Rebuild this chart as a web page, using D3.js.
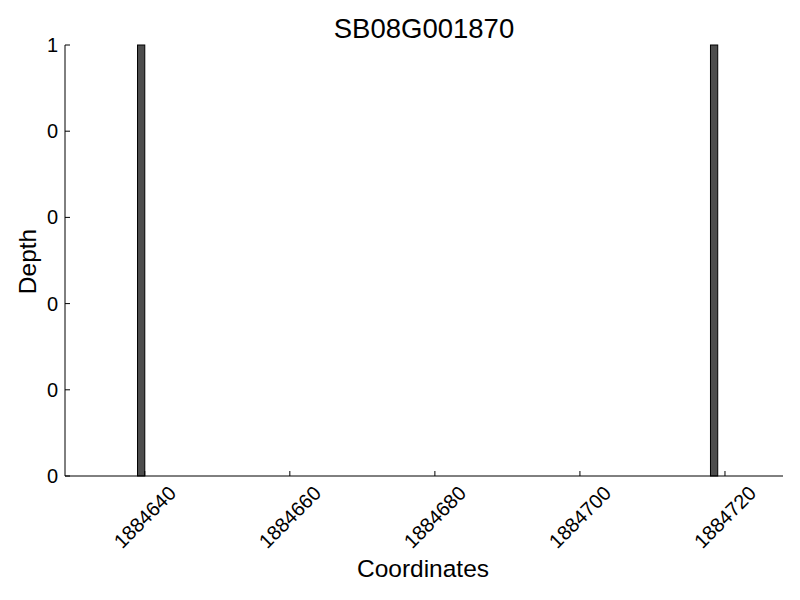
<!DOCTYPE html>
<html>
<head>
<meta charset="utf-8">
<script src="https://cdn.jsdelivr.net/npm/d3@7"></script>
<style>
  body { margin: 0; background: #fff; }
  text { font-family: "Liberation Sans", Arial, sans-serif; fill: #000; }
</style>
</head>
<body>
<div class="canvas"></div>
<script>
const width = 800;
const height = 600;
let [mt, mr, mb, ml] = [45, 17, 124, 65]
let graphWidth = width - ml - mr
let graphHeight = height - mt - mb

// data
const positions = [1884639, 1884718]
const depths = [1, 1]
const xTicks = [1884640, 1884660, 1884680, 1884700, 1884720]
const yTicks = [0, 0.2, 0.4, 0.6, 0.8, 1]
const yTickLabels = ["0", "0", "0", "0", "0", "1"]
const xDomain = [1884629, 1884728]

const data = positions.map((p, i) => ({pos: p, depth: depths[i]}))

const svg = d3.select(".canvas")
                .append("svg")
                .attr("width", width)
                .attr("height", height)

const graph = svg.append("g")
                    .attr("transform", `translate(${ml}, ${mt})`)

const x = d3.scaleLinear()
            .domain(xDomain)
            .range([0, graphWidth])

const y = d3.scaleLinear()
            .domain([0, 1])
            .range([graphHeight, 0])

// bars (one unit wide, edge aligned)
graph.selectAll("rect")
    .data(data)
    .enter()
    .append("rect")
    .attr("x", d => x(d.pos))
    .attr("y", d => y(d.depth))
    .attr("width", d => x(d.pos + 1) - x(d.pos))
    .attr("height", d => graphHeight - y(d.depth))
    .attr("fill", "#4d4d4d")
    .attr("stroke", "#000")
    .attr("stroke-width", 1)

// spines
graph.append("line")
    .attr("x1", 0).attr("x2", 0)
    .attr("y1", 0).attr("y2", graphHeight)
    .attr("stroke", "#000")
graph.append("line")
    .attr("x1", 0).attr("x2", graphWidth)
    .attr("y1", graphHeight).attr("y2", graphHeight)
    .attr("stroke", "#000")

// y ticks (inward)
graph.selectAll(".ytick")
    .data(yTicks)
    .enter()
    .append("line")
    .attr("x1", 0).attr("x2", 5)
    .attr("y1", d => y(d)).attr("y2", d => y(d))
    .attr("stroke", "#000")

graph.selectAll(".ylabel")
    .data(yTicks)
    .enter()
    .append("text")
    .attr("x", -7)
    .attr("y", d => y(d))
    .attr("text-anchor", "end")
    .attr("dominant-baseline", "central")
    .style("font-size", "20px")
    .text((d, i) => yTickLabels[i])

// x ticks (inward)
graph.selectAll(".xtick")
    .data(xTicks)
    .enter()
    .append("line")
    .attr("x1", d => x(d)).attr("x2", d => x(d))
    .attr("y1", graphHeight).attr("y2", graphHeight - 5)
    .attr("stroke", "#000")

graph.selectAll(".xlabel")
    .data(xTicks)
    .enter()
    .append("text")
    .attr("transform", d => `translate(${x(d)}, ${graphHeight + 41}) rotate(-45)`)
    .attr("text-anchor", "middle")
    .attr("dominant-baseline", "central")
    .style("font-size", "20px")
    .text(d => d)

// title and axis labels
svg.append("text")
    .attr("x", ml + graphWidth / 2)
    .attr("y", 38)
    .attr("text-anchor", "middle")
    .style("font-size", "27.5px")
    .text("SB08G001870")

svg.append("text")
    .attr("x", 423)
    .attr("y", 577)
    .attr("text-anchor", "middle")
    .style("font-size", "24.5px")
    .text("Coordinates")

svg.append("text")
    .attr("transform", `translate(36, ${mt + graphHeight / 2 + 1}) rotate(-90)`)
    .attr("text-anchor", "middle")
    .style("font-size", "24.5px")
    .text("Depth")
</script>
</body>
</html>
